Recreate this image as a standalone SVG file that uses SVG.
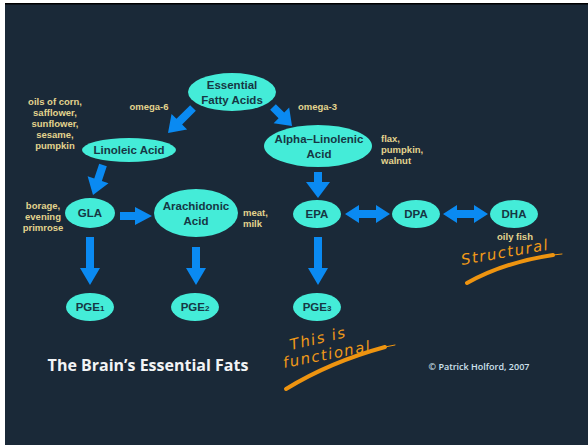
<svg xmlns="http://www.w3.org/2000/svg" width="588" height="445" viewBox="0 0 588 445">
<style>
.node{fill:#44ecd8}
.nt{font-family:"Liberation Sans",Arial,sans-serif;font-weight:700;font-size:11.5px;fill:#163744;text-anchor:middle}
.sub{font-size:8px}
.note{font-family:"Liberation Sans",Arial,sans-serif;font-weight:700;font-size:9.5px;fill:#e3d48e}
.mid{text-anchor:middle}
.arr{fill:#0a8af2}
.hand{font-family:"DejaVu Sans","Liberation Sans",sans-serif;font-style:italic;font-size:15px;fill:#f09a18;letter-spacing:1.5px}
.stroke{fill:none;stroke:#ee9410;stroke-linecap:round}
</style>
<rect x="0" y="0" width="588" height="445" fill="#ffffff"/>
<rect x="5" y="3" width="583" height="442" fill="#1a2938"/>
<rect x="5" y="3" width="583" height="1.5" fill="#000000"/>

<g id="connectors">
<polygon class="arr" points="195.83,110.83 182.14,124.52 187.09,129.47 168,133 171.53,113.91 176.48,118.86 190.17,105.17"/>
<polygon class="arr" points="270.17,109.83 278.56,118.22 273.61,123.17 292,126 289.17,107.61 284.22,112.56 275.83,104.17"/>
<polygon class="arr" points="106.80,166.26 101.86,181.08 108.50,183.30 93,195 87.62,176.34 94.26,178.56 99.20,163.74"/>
<polygon class="arr" points="120,212 135,212 135,207 152,216 135,225 135,220 120,220"/>
<polygon class="arr" points="314,172 322,172 322,182 330,182 318,198 306,182 314,182"/>
<polygon class="arr" points="345,214 359,205 359,210 376,210 376,205 390,214 376,223 376,218 359,218 359,223"/>
<polygon class="arr" points="443,214 457,205 457,210 474,210 474,205 488,214 474,223 474,218 457,218 457,223"/>
<polygon class="arr" points="86,237 94,237 94,268 100,268 90,285 80,268 86,268"/>
<polygon class="arr" points="192,247 200,247 200,268 206,268 196,285 186,268 192,268"/>
<polygon class="arr" points="314,237 322,237 322,268 328,268 318,285 308,268 314,268"/>
</g>

<g id="efa"><ellipse class="node" cx="232" cy="92" rx="44" ry="19"/><text class="nt" x="232" y="89">Essential</text><text class="nt" x="232" y="104">Fatty Acids</text></g>
<g id="linoleic"><ellipse class="node" cx="129" cy="150" rx="47" ry="12"/><text class="nt" x="129" y="154">Linoleic Acid</text></g>
<g id="ala"><ellipse class="node" cx="318" cy="146" rx="54" ry="21"/><text class="nt" x="319" y="143">Alpha–Linolenic</text><text class="nt" x="319" y="158">Acid</text></g>
<g id="gla"><ellipse class="node" cx="90" cy="213" rx="25" ry="15"/><text class="nt" x="90" y="217">GLA</text></g>
<g id="arachidonic"><ellipse class="node" cx="196" cy="213" rx="42" ry="24"/><text class="nt" x="196" y="210">Arachidonic</text><text class="nt" x="196" y="225">Acid</text></g>
<g id="epa"><ellipse class="node" cx="317" cy="214" rx="24" ry="14"/><text class="nt" x="317" y="218">EPA</text></g>
<g id="dpa"><ellipse class="node" cx="416" cy="214" rx="24" ry="14"/><text class="nt" x="416" y="218">DPA</text></g>
<g id="dha"><ellipse class="node" cx="514" cy="214" rx="24" ry="14"/><text class="nt" x="514" y="218">DHA</text></g>
<g id="pge1"><ellipse class="node" cx="90" cy="307" rx="24" ry="14"/><text class="nt" x="90" y="311">PGE<tspan class="sub">1</tspan></text></g>
<g id="pge2"><ellipse class="node" cx="195" cy="307" rx="24" ry="14"/><text class="nt" x="195" y="311">PGE<tspan class="sub">2</tspan></text></g>
<g id="pge3"><ellipse class="node" cx="317" cy="307" rx="24" ry="14"/><text class="nt" x="317" y="311">PGE<tspan class="sub">3</tspan></text></g>

<g id="notes">
<text class="note mid" x="149" y="110">omega-6</text>
<text class="note" x="298" y="110">omega-3</text>
<text class="note mid" x="55" y="105">oils of corn,</text>
<text class="note mid" x="55" y="116">safflower,</text>
<text class="note mid" x="55" y="127">sunflower,</text>
<text class="note mid" x="55" y="138">sesame,</text>
<text class="note mid" x="55" y="149">pumpkin</text>
<text class="note mid" x="43" y="209">borage,</text>
<text class="note mid" x="43" y="220">evening</text>
<text class="note mid" x="43" y="231">primrose</text>
<text class="note" x="243" y="216">meat,</text>
<text class="note" x="243" y="227">milk</text>
<text class="note" x="381" y="142">flax,</text>
<text class="note" x="381" y="153">pumpkin,</text>
<text class="note" x="381" y="164">walnut</text>
<text class="note mid" x="515" y="240">oily fish</text>
</g>

<g id="handwriting">
<text class="hand" x="462" y="265" transform="rotate(-10 462 265)">Structural</text>
<path class="stroke" d="M467,283 Q505,262 553,255" stroke-width="4"/>
<path class="stroke" d="M553,255 L562,254" stroke-width="1"/>
<text class="hand" x="291" y="350" transform="rotate(-13 291 350)">This is</text>
<text class="hand" x="284" y="368" transform="rotate(-11 284 368)">functional</text>
<path class="stroke" d="M286,389 Q330,362 385,347" stroke-width="4"/>
<path class="stroke" d="M385,347 L395,345" stroke-width="1"/>
</g>

<text x="148" y="371" font-family="Open Sans, Liberation Sans, sans-serif" font-weight="700" font-size="16" fill="#f2f4f6" text-anchor="middle">The Brain’s Essential Fats</text>
<text x="479" y="370" font-family="Open Sans, Liberation Sans, sans-serif" font-weight="600" font-size="9" fill="#cfe2ee" text-anchor="middle">© Patrick Holford, 2007</text>
</svg>
